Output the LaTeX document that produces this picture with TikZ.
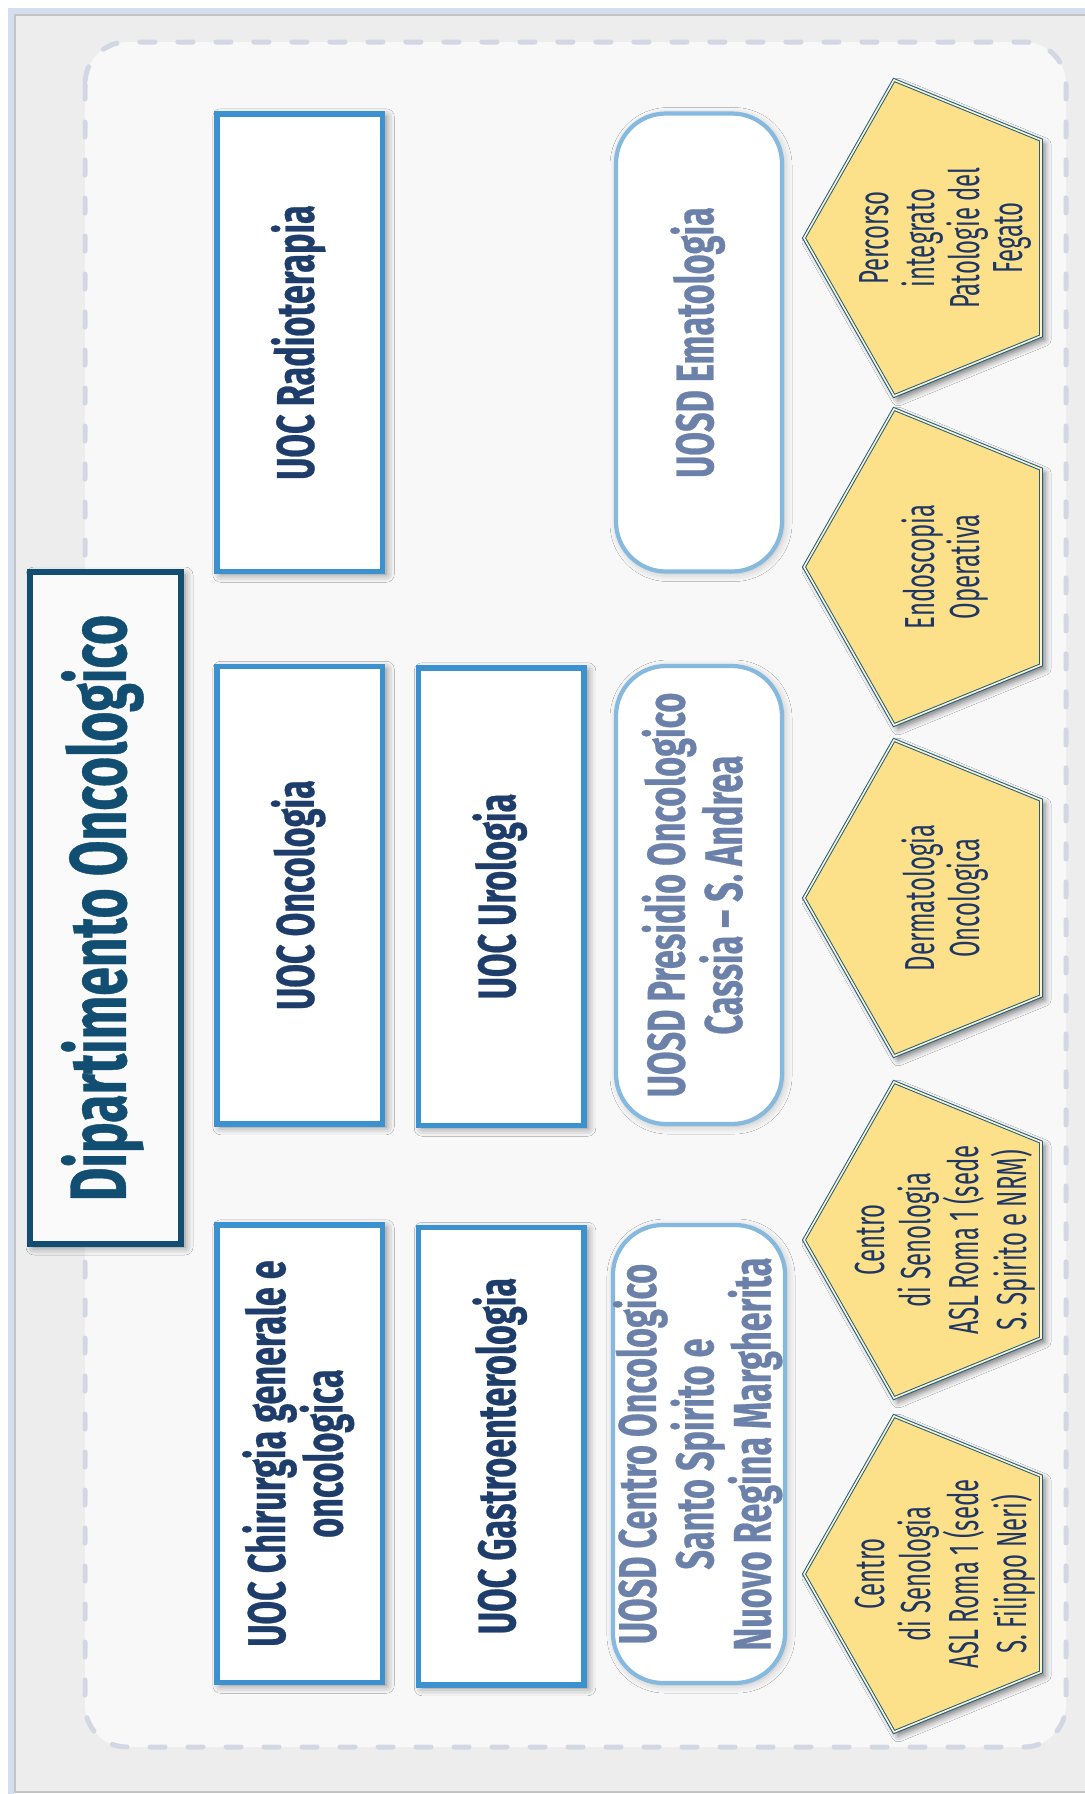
\documentclass[tikz,border=0pt]{standalone}
\usepackage{fontspec}
\usepackage{graphicx}
\usetikzlibrary{shadows.blur}
\newfontfamily\agency[FakeStretch=0.57]{Fira Sans}
\newfontfamily\agencyb[FakeStretch=0.645,FakeBold=0.5]{Fira Sans}
\definecolor{titleblue}{HTML}{124E72}
\definecolor{uocborder}{HTML}{3B92CF}
\definecolor{uoctext}{HTML}{1E3D6B}
\definecolor{uosdborder}{HTML}{86B9DE}
\definecolor{uosdtext}{HTML}{6C81A9}
\definecolor{pentafill}{HTML}{FDE08A}
\definecolor{pentaline}{HTML}{1E5E8A}
\definecolor{pentagap}{HTML}{FFF4C8}
\definecolor{pentatextc}{HTML}{1F3763}
\definecolor{dashc}{HTML}{D3D7E4}
\definecolor{innerc}{HTML}{F8F8F8}
\definecolor{panelc}{HTML}{EDEDED}
\definecolor{panelline}{HTML}{C4C4C4}
\definecolor{glowc}{HTML}{D5DEEE}
\newcommand\vtext[1]{\rotatebox{90}{\begin{tabular}{@{}c@{}}#1\end{tabular}}}
\begin{document}
\begin{tikzpicture}[x=0.5pt,y=-0.5pt,
  uocbox/.style={draw=uocborder, line width=2.75pt, fill=white, inner sep=0pt,
    minimum width=82.75pt, minimum height=228.75pt,
    font=\agencyb\bfseries\fontsize{26.5pt}{24pt}\selectfont, text=uoctext,
    blur shadow={shadow xshift=2pt, shadow yshift=-1.5pt, shadow blur radius=4pt, shadow opacity=50}},
  uosdbox/.style={draw=uosdborder, line width=2.1pt, fill=white, inner sep=0pt,
    rounded corners=25pt,
    minimum width=83pt, minimum height=229pt,
    font=\agencyb\bfseries\fontsize{26.5pt}{24pt}\selectfont, text=uosdtext,
    blur shadow={shadow xshift=1pt, shadow yshift=-1pt, shadow blur radius=4pt, shadow opacity=25}},
  titlebox/.style={draw=titleblue, line width=3pt, fill=white!98!black, inner sep=0pt,
    minimum width=75.5pt, minimum height=336pt,
    font=\agencyb\bfseries\fontsize{40pt}{40pt}\selectfont, text=titleblue,
    blur shadow={shadow xshift=2pt, shadow yshift=-1.5pt, shadow blur radius=4pt, shadow opacity=50}},
  pentashape/.style={fill=pentafill, draw=pentaline, line width=0.5pt,
    double=pentagap, double distance=0.8pt,
    blur shadow={shadow xshift=2pt, shadow yshift=-2pt, shadow blur radius=3pt, shadow opacity=50}},
  pentalabel/.style={inner sep=0pt, text=pentatextc,
    font=\agency\fontsize{21pt}{21.25pt}\selectfont},
  dashbox/.style={draw=dashc, line width=2.5pt, dash pattern=on 7.5pt off 11.5pt,
    line cap=round, fill=innerc, rounded corners=21pt}
]
\useasboundingbox (0,0) rectangle (1085,1794);
\fill[white] (0,0) rectangle (1085,1794);
\draw[glowc, line width=3pt] (11,1794) -- (11,11) -- (1090,11);
\draw[fill=panelc, draw=panelline, line width=0.75pt] (15,15) rectangle (1095,1792);
\draw[dashbox] (85,42) rectangle (1066,1747);

% title
\node[titlebox] (title) at (105.5,908) {\vtext{Dipartimento Oncologico}};

% column 1
\node[uocbox] (radio) at (299.5,342.5) {\vtext{UOC Radioterapia}};
\node[uocbox] (onco) at (299.5,895) {\vtext{UOC Oncologia}};
\node[uocbox] (chir) at (299.5,1453.5) {\vtext{UOC Chirurgia generale e\\oncologica}};
% column 2
\node[uocbox] (uro) at (501,896.5) {\vtext{UOC Urologia}};
\node[uocbox] (gastro) at (501,1456) {\vtext{UOC Gastroenterologia}};
% column 3
\node[uosdbox] (emato) at (699,342.5) {\vtext{UOSD Ematologia}};
\node[uosdbox] (presidio) at (699,895) {\vtext{UOSD Presidio Oncologico\\Cassia – S. Andrea}};
\node[uosdbox] (centro) at (699,1454) {\vtext{UOSD Centro Oncologico\\Santo Spirito e\\Nuovo Regina Margherita}};

% pentagons
\newcommand\penta[3]{%
  \path[pentashape] (804,#2) -- (894,#2-158) -- (1041,#2-98) -- (1041,#2+98) -- (894,#2+158) -- cycle;
  \node[pentalabel] (#1) at (947,#2) {\vtext{#3}};}
\penta{fegato}{238}{Percorso\\integrato\\Patologie del\\Fegato}
\penta{endo}{567}{Endoscopia\\Operativa}
\penta{derma}{898}{Dermatologia\\Oncologica}
\penta{senonrm}{1240}{Centro\\di Senologia\\ASL Roma 1 (sede\\S. Spirito e NRM)}
\penta{senoneri}{1574}{Centro\\di Senologia\\ASL Roma 1 (sede\\S. Filippo Neri)}
\end{tikzpicture}
\end{document}
